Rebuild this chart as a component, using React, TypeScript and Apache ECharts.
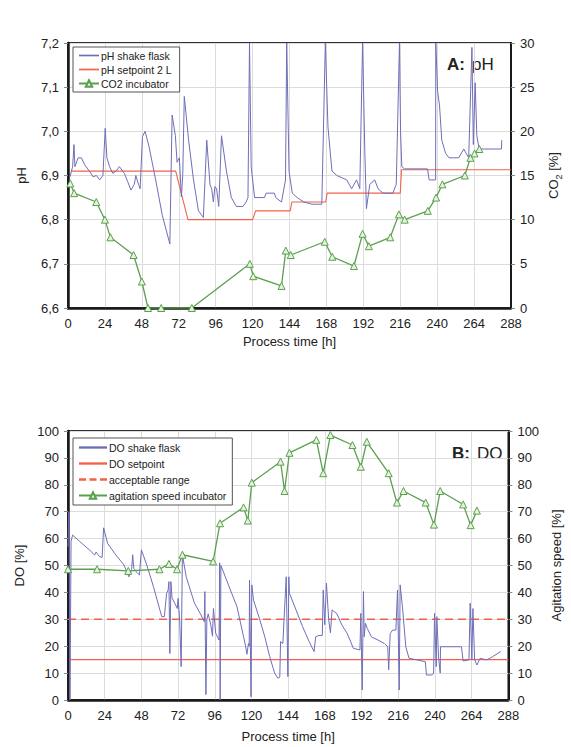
import React, { useEffect, useRef } from "react";
import * as echarts from "echarts";

// ---------- Data ----------
const xTicks = [0, 24, 48, 72, 96, 120, 144, 168, 192, 216, 240, 264, 288];

// Panel A: pH
const phShakeFlask: number[][] = [
  [1.3, 6.897], [3, 6.92], [3.9, 6.97], [4.5, 6.92], [6.6, 6.94], [8.7, 6.94], [10.9, 6.924],
  [14.1, 6.909], [16.3, 6.897], [18.4, 6.9], [20.6, 6.89], [22.7, 6.9], [24.2, 7.007], [25.3, 6.94],
  [27, 6.92], [29.1, 6.905], [31.3, 6.91], [33.4, 6.92], [36.6, 6.905], [38.8, 6.886], [40.9, 6.867],
  [43.1, 6.88], [44.1, 6.9], [45.8, 6.88], [46.9, 6.87], [48.4, 6.988], [50.1, 7.0], [52.7, 6.965],
  [57, 6.89], [61.3, 6.81], [66.2, 6.745], [67.7, 7.037], [69.8, 6.99], [70.9, 6.93], [72.4, 6.94],
  [73.7, 6.852], [74.6, 6.9], [75.6, 7.079], [78.4, 6.98], [81.6, 6.89], [84.8, 6.82], [88, 6.805],
  [90.2, 6.98], [92.3, 6.88], [93.4, 6.87], [94.5, 6.84], [95.5, 6.875], [96.6, 6.87], [98, 6.83],
  [99.8, 6.99], [103, 6.91], [106.2, 6.85], [109.4, 6.83], [113.7, 6.83], [115.8, 6.84], [117, 6.85],
  [118, 7.2], [119.1, 6.92], [121.3, 6.85], [127.7, 6.85], [128.8, 6.86], [134.2, 6.86], [135, 6.85],
  [138.8, 6.84], [141.4, 6.89], [142.2, 7.2], [143.7, 6.91], [145.8, 6.86], [149, 6.85], [153.3, 6.84],
  [158.6, 6.835], [165, 6.835], [167.3, 7.2], [169, 7.01], [171.6, 6.91], [174.8, 6.9], [181.2, 6.89],
  [184.4, 6.87], [187.6, 6.89], [189.7, 6.87], [191.5, 7.2], [193, 6.95], [194, 6.825], [196.2, 6.88],
  [199.4, 6.89], [201.6, 6.87], [204.8, 6.86], [208, 6.86], [211.2, 6.86], [213.4, 6.88], [215.5, 7.2],
  [216.2, 7.0], [217, 6.92], [218.8, 6.915], [233.7, 6.915], [234.8, 6.89], [239, 6.89], [239.1, 7.2],
  [240.3, 7.09], [241.5, 7.06], [243, 6.98], [245.5, 6.95], [247.7, 6.94], [254, 6.94], [257.3, 6.96],
  [260.5, 6.94], [262.6, 7.19], [263.5, 6.97], [264.7, 7.11], [265.8, 6.99], [267.3, 6.96],
  [281.8, 6.96], [282, 6.98],
];
const phSetpoint: number[][] = [
  [2, 6.91], [70, 6.91], [78, 6.8], [120, 6.8], [122, 6.82], [144.5, 6.82], [145.5, 6.84],
  [167.5, 6.84], [168.5, 6.86], [216, 6.86], [216.8, 6.913], [288, 6.913],
];
const co2Incubator: number[][] = [
  [1.5, 14.1], [4, 13], [18.4, 12], [24, 10], [27.6, 8], [42.6, 6], [48, 3], [52, 0], [60.6, 0],
  [80.5, 0], [118.2, 5], [120.4, 3.6], [138.8, 2.5], [141.6, 6.5], [144.8, 6], [166.9, 7.5],
  [171.8, 5.8], [185.9, 4.75], [191.5, 8.4], [195.6, 7], [209.5, 8], [215.1, 10.6], [218.9, 10],
  [233.9, 11], [239.3, 12.5], [243.4, 14], [258, 15], [261.6, 17], [264.3, 17.5], [267.4, 18],
];

// Panel B: DO
const doShakeFlask: number[][] = [
  [0, 57], [0.6, 70], [1.3, 0], [2, 59], [3, 61.3], [7.7, 58.9], [14, 55.8], [17.4, 53.9], [18.4, 55],
  [20.6, 53.3], [22.3, 53], [23.3, 64], [25.9, 58.2], [31.3, 53.9], [36.6, 50.2], [39.8, 45.8],
  [41.6, 48.5], [42.3, 54], [43, 49], [44.5, 47.7], [46.7, 46.5], [48, 55.8], [51.5, 50.2],
  [55.9, 42.1], [61.3, 31], [63, 31], [64.5, 39.7], [65.5, 41], [66, 44], [66.6, 17.3], [67.3, 44],
  [68, 38], [69.8, 36], [71.5, 34], [72, 37.8], [73, 30], [74, 12.4], [74.8, 54], [77.3, 45.8],
  [82.7, 36], [87, 31.6], [89.1, 29.1], [89.5, 40.3], [90.2, 2], [90.8, 30], [91.7, 32], [93.4, 27.9],
  [94.5, 23.7], [95.1, 34], [96.6, 24.8], [98.8, 22.3], [99.2, 51], [99.5, 0], [100, 50],
  [106.2, 40.9], [110.5, 34.7], [114.8, 23.5], [116, 20.4], [117, 17], [118, 21], [118.5, 20],
  [118.7, 44.6], [119.7, 1.2], [120.2, 42.8], [121.3, 37.2], [125.5, 29.7], [128.7, 23.5],
  [131.9, 16.1], [135.2, 9.9], [137.3, 8.1], [138.5, 8.5], [139, 21.7], [140.5, 21], [142.7, 45.8],
  [143.8, 8.7], [144.4, 45.8], [144.8, 39.7], [149.1, 33.5], [153.4, 27.3], [157.7, 21.7],
  [160.9, 18], [162, 23.5], [164.1, 24], [166.3, 24], [166.9, 40.9], [167.9, 28], [169, 43.4],
  [170.5, 29.7], [171.6, 25], [172.7, 33.5], [175.9, 32], [179.1, 27.9], [182.3, 25], [184.4, 22.3],
  [186.6, 19.2], [190.9, 18.6], [191.5, 32.2], [192.4, 3.7], [193.2, 40.3], [193.7, 23.5],
  [194.5, 28.5], [195.8, 26.5], [198.4, 23.5], [202.7, 22.3], [206.9, 21], [209.1, 19.8],
  [209.7, 11.2], [210.7, 24.7], [212.3, 26], [214.4, 26], [215.5, 40.9], [216.6, 3.7], [217.2, 42.8],
  [218.7, 34.7], [220.9, 19.8], [223, 15.5], [228.4, 14.9], [233.7, 14.2], [234.4, 9.3], [238, 9.3],
  [239.1, 10], [239.7, 32.2], [240.8, 12.4], [241.2, 31], [242.3, 16], [243.4, 10], [243.6, 19.8],
  [257.3, 19.8], [258.4, 14.5], [262.2, 14.9], [263, 36], [264.1, 14.9], [264.8, 34], [265.9, 15],
  [267.4, 13], [269.5, 15.5], [273.8, 14.9], [277.6, 16.1], [283, 18],
];
const doSetpoint: number[][] = [[1, 15], [288, 15]];
const acceptableRange: number[][] = [[0, 30], [288, 30]];
const agitationSpeed: number[][] = [
  [0, 48.6], [19, 48.6], [39.4, 48], [59.8, 48.6], [66, 50.6], [71.3, 48.6], [74.8, 54], [94.9, 51.5],
  [99.4, 65.7], [114.8, 71.6], [117.6, 66.7], [120.2, 80.8], [139, 88.6], [141.6, 77.7], [144.8, 91.9],
  [162.4, 96.7], [166.9, 84.3], [171.6, 98.5], [186, 94.8], [191.5, 86.7], [195.4, 96], [209.7, 84.3],
  [215.1, 73.4], [219.4, 77.7], [233.9, 73.4], [239.3, 65.2], [243.4, 77.7], [258.4, 72.7],
  [263.3, 65], [267.4, 70.4],
];

// ---------- Styles ----------
const FONT = "Liberation Sans, Arial, Helvetica, sans-serif";
const BLUE = "#6e6eb8";
const RED = "#f5604a";
const GREEN = "#5aa04e";
const GREEN_FILL = "#e6f3dc";

// legend icons (thin solid / dashed strokes)
const ICON_SOLID = "path://M0,0H24V2H0Z";
const ICON_DASHED = "path://M0,0H6V2H0Z M9,0H15V2H9Z M18,0H24V2H18Z";

const xAxisBase = (gridIndex: number, nameGap: number) => ({
  type: "value" as const,
  gridIndex,
  min: 0,
  max: 288,
  interval: 24,
  name: "Process time [h]",
  nameLocation: "middle" as const,
  nameGap,
  nameTextStyle: { fontFamily: FONT, fontSize: 13, color: "#222" },
  axisLine: { show: true, onZero: false, lineStyle: { color: "#1a1a1a", width: 2.5 } },
  axisTick: { show: false },
  axisLabel: { fontFamily: FONT, fontSize: 13, color: "#222", margin: 9 },
  splitLine: { show: true, lineStyle: { color: "#dcdcdc", width: 1 } },
});

export default function App() {
  const ref = useRef<HTMLDivElement>(null);

  useEffect(() => {
    document.body.style.margin = "0";
    if (!ref.current) return;
    const chart = echarts.init(ref.current, undefined, { renderer: "svg" });

    const option: any = {
      animation: false,
      backgroundColor: "#ffffff",
      textStyle: { fontFamily: FONT },
      grid: [
        { left: 68, top: 43, width: 448, height: 265, show: true, borderColor: "#333", borderWidth: 2, backgroundColor: "transparent" },
        { left: 68, top: 431, width: 448, height: 269, show: true, borderColor: "#333", borderWidth: 2, backgroundColor: "transparent" },
      ],
      xAxis: [xAxisBase(0, 27), xAxisBase(1, 30)],
      yAxis: [
        {
          type: "value", gridIndex: 0, min: 6.6, max: 7.2, interval: 0.1,
          name: "pH", nameLocation: "middle", nameGap: 40, nameRotate: 90,
          nameTextStyle: { fontFamily: FONT, fontSize: 13, color: "#222" },
          axisLine: { show: true, lineStyle: { color: "#1a1a1a", width: 2.5 } },
          axisTick: { show: true, length: 4, lineStyle: { color: "#888" } },
          axisLabel: { fontFamily: FONT, fontSize: 13, color: "#222", margin: 9, formatter: (v: number) => v.toFixed(1).replace(".", ",") },
          splitLine: { show: true, lineStyle: { color: "#dcdcdc", width: 1 } },
        },
        {
          type: "value", gridIndex: 0, min: 0, max: 30, interval: 5, position: "right",
          name: "{n|CO}{s|2}{n| [%]}", nameLocation: "middle", nameGap: 32, nameRotate: 90,
          nameTextStyle: {
            fontFamily: FONT, color: "#222",
            rich: {
              n: { fontFamily: FONT, fontSize: 13, color: "#222", lineHeight: 20, verticalAlign: "middle" },
              s: { fontFamily: FONT, fontSize: 9, color: "#222", lineHeight: 20, verticalAlign: "bottom" },
            },
          },
          axisLine: { show: true, lineStyle: { color: "#1a1a1a", width: 2 } },
          axisTick: { show: true, length: 4, lineStyle: { color: "#888" } },
          axisLabel: { fontFamily: FONT, fontSize: 13, color: "#222", margin: 9 },
          splitLine: { show: false },
        },
        {
          type: "value", gridIndex: 1, min: 0, max: 100, interval: 10,
          name: "DO [%]", nameLocation: "middle", nameGap: 40, nameRotate: 90,
          nameTextStyle: { fontFamily: FONT, fontSize: 13, color: "#222" },
          axisLine: { show: true, lineStyle: { color: "#1a1a1a", width: 2.5 } },
          axisTick: { show: true, length: 4, lineStyle: { color: "#888" } },
          axisLabel: { fontFamily: FONT, fontSize: 13, color: "#222", margin: 9 },
          splitLine: { show: true, lineStyle: { color: "#dcdcdc", width: 1 } },
        },
        {
          type: "value", gridIndex: 1, min: 0, max: 100, interval: 10, position: "right",
          name: "Agitation speed [%]", nameLocation: "middle", nameGap: 37, nameRotate: 90,
          nameTextStyle: { fontFamily: FONT, fontSize: 13, color: "#222" },
          axisLine: { show: true, lineStyle: { color: "#1a1a1a", width: 2 } },
          axisTick: { show: true, length: 4, lineStyle: { color: "#888" } },
          axisLabel: { fontFamily: FONT, fontSize: 13, color: "#222", margin: 9 },
          splitLine: { show: false },
        },
      ],
      legend: [
        {
          data: [
            { name: "pH shake flask", icon: ICON_SOLID, itemStyle: { color: BLUE } },
            { name: "pH setpoint 2 L", icon: ICON_SOLID, itemStyle: { color: RED } },
            { name: "CO2 incubator" },
          ],
          left: 73, top: 47, orient: "vertical", itemGap: 3, itemWidth: 20, itemHeight: 8,
          textStyle: { fontFamily: FONT, fontSize: 10.5, color: "#222", padding: [0, 0, 0, -3] },
          borderColor: "#555", borderWidth: 1, padding: [3, 8, 3, 5], backgroundColor: "#fff",
        },
        {
          data: [
            { name: "DO shake flask", icon: ICON_SOLID, itemStyle: { color: BLUE } },
            { name: "DO setpoint", icon: ICON_SOLID, itemStyle: { color: RED } },
            { name: "acceptable range", icon: ICON_DASHED, itemStyle: { color: RED } },
            { name: "agitation speed incubator" },
          ],
          left: 73, top: 438, orient: "vertical", itemGap: 5, itemWidth: 28, itemHeight: 8,
          textStyle: { fontFamily: FONT, fontSize: 10.5, color: "#222", padding: [0, 0, 0, -3] },
          borderColor: "#555", borderWidth: 1, padding: [4, 6, 4, 5], backgroundColor: "#fff",
        },
      ],
      graphic: [
        { type: "text", left: 447, top: 56, style: { text: "A:", fontFamily: FONT, fontSize: 17, fontWeight: "bold", fill: "#222" } },
        { type: "text", left: 472, top: 56, style: { text: "pH", fontFamily: FONT, fontSize: 17, fill: "#222" } },
        { type: "text", left: 452, top: 445, style: { text: "B:", fontFamily: FONT, fontSize: 17, fontWeight: "bold", fill: "#222" } },
        { type: "text", left: 477, top: 445, style: { text: "DO", fontFamily: FONT, fontSize: 17, fill: "#222" } },
      ],
      series: [
        {
          name: "pH shake flask", type: "line", xAxisIndex: 0, yAxisIndex: 0, data: phShakeFlask,
          symbol: "none", clip: true, lineStyle: { color: BLUE, width: 1 }, itemStyle: { color: BLUE }, z: 3,
        },
        {
          name: "pH setpoint 2 L", type: "line", xAxisIndex: 0, yAxisIndex: 0, data: phSetpoint,
          symbol: "none", lineStyle: { color: RED, width: 1.1 }, itemStyle: { color: RED }, z: 2,
        },
        {
          name: "CO2 incubator", type: "line", xAxisIndex: 0, yAxisIndex: 1, data: co2Incubator,
          symbol: "triangle", symbolSize: 7, showSymbol: true,
          lineStyle: { color: GREEN, width: 1.3 },
          itemStyle: { color: GREEN_FILL, borderColor: GREEN, borderWidth: 1 }, z: 4,
        },
        {
          name: "DO shake flask", type: "line", xAxisIndex: 1, yAxisIndex: 2, data: doShakeFlask,
          symbol: "none", lineStyle: { color: BLUE, width: 1 }, itemStyle: { color: BLUE }, z: 3,
        },
        {
          name: "DO setpoint", type: "line", xAxisIndex: 1, yAxisIndex: 2, data: doSetpoint,
          symbol: "none", lineStyle: { color: RED, width: 1.2 }, itemStyle: { color: RED }, z: 2,
        },
        {
          name: "acceptable range", type: "line", xAxisIndex: 1, yAxisIndex: 2, data: acceptableRange,
          symbol: "none", lineStyle: { color: RED, width: 1.4, type: [8, 5] }, itemStyle: { color: RED }, z: 2,
        },
        {
          name: "agitation speed incubator", type: "line", xAxisIndex: 1, yAxisIndex: 3, data: agitationSpeed,
          symbol: "triangle", symbolSize: 7, showSymbol: true,
          lineStyle: { color: GREEN, width: 1.3 },
          itemStyle: { color: GREEN_FILL, borderColor: GREEN, borderWidth: 1 }, z: 4,
        },
      ],
    };

    chart.setOption(option);
    return () => chart.dispose();
  }, []);

  return <div ref={ref} style={{ width: 571, height: 747 }} />;
}
